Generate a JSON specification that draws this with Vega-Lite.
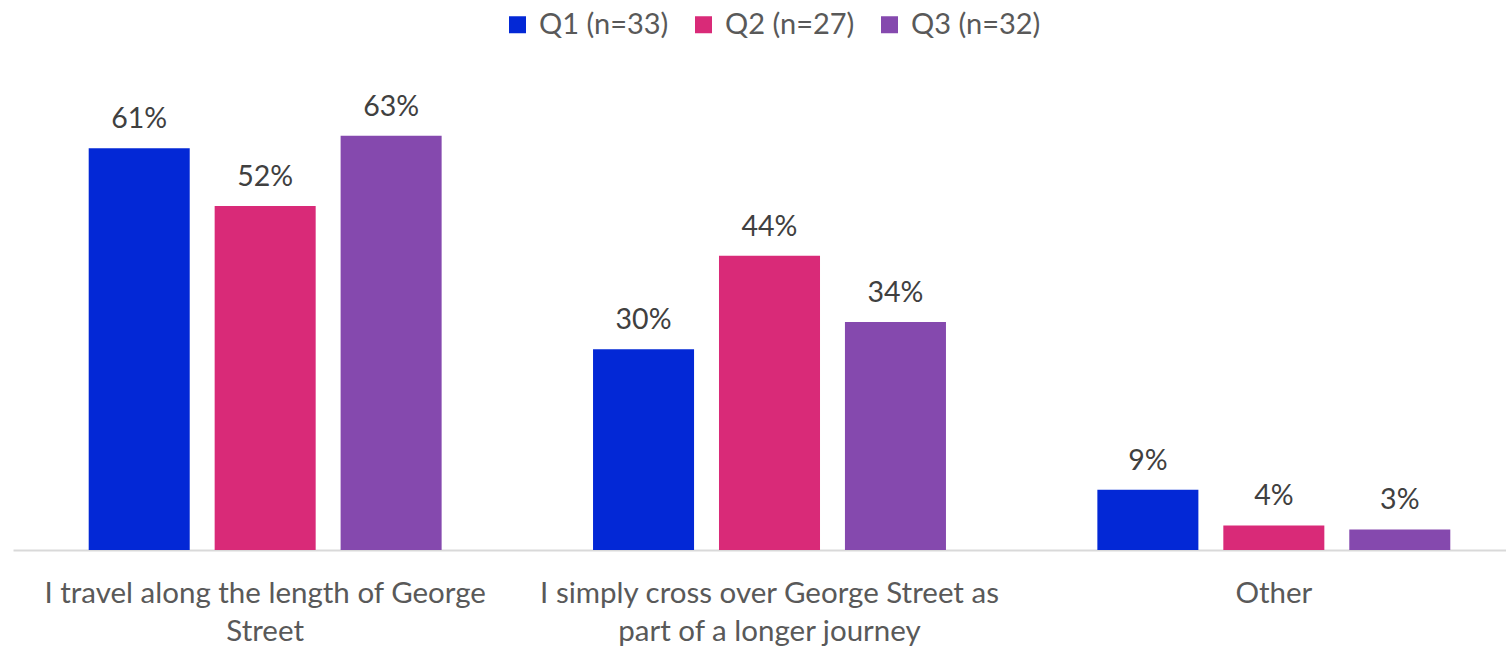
{
  "$schema": "https://vega.github.io/schema/vega-lite/v6.json",
  "width": 1513,
  "height": 464,
  "autosize": "none",
  "padding": {"left": 13, "top": 86, "right": 0, "bottom": 96},
  "background": "white",
  "config": {
    "font": "Lato",
    "view": {"stroke": null}
  },
  "data": {
    "values": [
      {"category": "I travel along the length of George Street", "series": "Q1 (n=33)", "value": 0.606},
      {"category": "I travel along the length of George Street", "series": "Q2 (n=27)", "value": 0.519},
      {"category": "I travel along the length of George Street", "series": "Q3 (n=32)", "value": 0.625},
      {"category": "I simply cross over George Street as part of a longer journey", "series": "Q1 (n=33)", "value": 0.303},
      {"category": "I simply cross over George Street as part of a longer journey", "series": "Q2 (n=27)", "value": 0.444},
      {"category": "I simply cross over George Street as part of a longer journey", "series": "Q3 (n=32)", "value": 0.344},
      {"category": "Other", "series": "Q1 (n=33)", "value": 0.091},
      {"category": "Other", "series": "Q2 (n=27)", "value": 0.037},
      {"category": "Other", "series": "Q3 (n=32)", "value": 0.031}
    ]
  },
  "encoding": {
    "x": {
      "field": "category",
      "type": "nominal",
      "sort": null,
      "title": null,
      "scale": {"paddingInner": 0, "paddingOuter": 0},
      "axis": {
        "labelAngle": 0,
        "ticks": false,
        "domainColor": "#d9d9d9",
        "domainWidth": 2,
        "labelFontSize": 29.5,
        "labelColor": "#595959",
        "labelPadding": 29,
        "labelLineHeight": 38,
        "labelLimit": 600,
        "labelExpr": "datum.value == 'I travel along the length of George Street' ? ['I travel along the length of George', 'Street'] : datum.value == 'I simply cross over George Street as part of a longer journey' ? ['I simply cross over George Street as', 'part of a longer journey'] : datum.value"
      }
    },
    "xOffset": {
      "field": "series",
      "type": "nominal",
      "scale": {"paddingInner": 0.198, "paddingOuter": 0.601}
    },
    "y": {
      "field": "value",
      "type": "quantitative",
      "scale": {"domain": [0, 0.7]},
      "axis": null
    }
  },
  "layer": [
    {
      "mark": {"type": "bar"},
      "encoding": {
        "color": {
          "field": "series",
          "type": "nominal",
          "scale": {"range": ["#0328d6", "#d92a78", "#8549ae"]},
          "legend": {
            "title": null,
            "orient": "none",
            "legendX": 490,
            "legendY": -76,
            "direction": "horizontal",
            "symbolType": "square",
            "symbolSize": 289,
            "symbolStrokeWidth": 0,
            "labelFontSize": 29,
            "labelColor": "#595959",
            "labelOffset": 7,
            "columnPadding": 20
          }
        }
      }
    },
    {
      "mark": {"type": "text", "baseline": "alphabetic", "dy": -20, "fontSize": 28.5, "color": "#404040"},
      "encoding": {
        "text": {"field": "value", "type": "quantitative", "format": ".0%"}
      }
    }
  ]
}
